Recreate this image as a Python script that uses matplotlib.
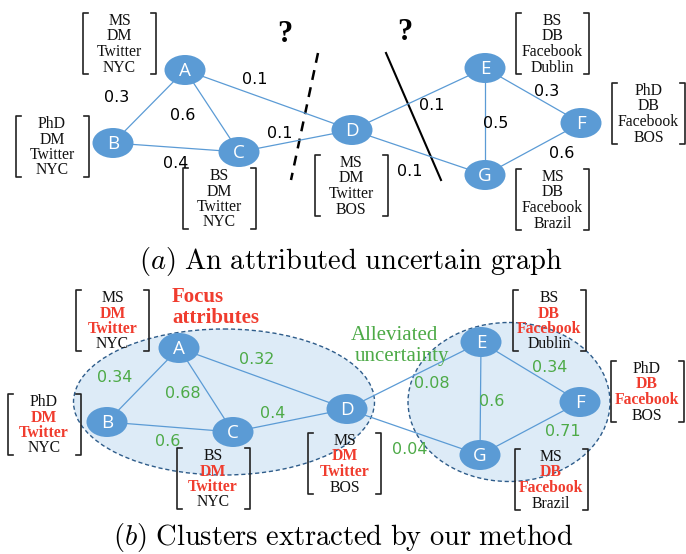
import matplotlib.pyplot as plt
from matplotlib.patches import Ellipse
plt.rcParams['mathtext.fontset'] = 'cm'

# Donnees du graphe
nodes = ['A', 'B', 'C', 'D', 'E', 'F', 'G']
edges = [('A', 'B'), ('A', 'C'), ('B', 'C'), ('A', 'D'), ('C', 'D'),
         ('D', 'E'), ('D', 'G'), ('E', 'F'), ('E', 'G'), ('F', 'G')]
w_top = ['0.3', '0.6', '0.4', '0.1', '0.1', '0.1', '0.1', '0.3', '0.5', '0.6']
w_bot = ['0.34', '0.68', '0.6', '0.32', '0.4', '0.08', '0.04', '0.34', '0.6', '0.71']
attrs = {'A': ['MS', 'DM', 'Twitter', 'NYC'],
         'B': ['PhD', 'DM', 'Twitter', 'NYC'],
         'C': ['BS', 'DM', 'Twitter', 'NYC'],
         'D': ['MS', 'DM', 'Twitter', 'BOS'],
         'E': ['BS', 'DB', 'Facebook', 'Dublin'],
         'F': ['PhD', 'DB', 'Facebook', 'BOS'],
         'G': ['MS', 'DB', 'Facebook', 'Brazil']}
focus = [1, 2]  # attributs en rouge dans (b)

# Mise en page (pixels)
pos_top = {'A': (185, 70), 'B': (113, 143), 'C': (239, 152), 'D': (352, 130),
           'E': (485, 68), 'F': (581, 123), 'G': (485, 175)}
pos_bot = {'A': (179, 348), 'B': (107, 422), 'C': (233, 432), 'D': (347, 409),
           'E': (481, 342), 'F': (580, 402), 'G': (480, 455)}
lab_top = [(117, 98), (183, 115), (176, 164), (255, 80), (280, 133),
           (432, 105), (410, 171), (547, 91), (496, 123), (562, 153)]
lab_bot = [(115, 377), (183, 393), (168, 442), (257, 360), (273, 413),
           (432, 384), (410, 449), (550, 368), (492, 402), (563, 432)]
box_top = {'A': (119.5, 13), 'B': (52, 116), 'C': (219, 168), 'D': (351, 155),
           'E': (552.5, 13), 'F': (648.5, 83), 'G': (552.5, 169)}
box_bot = {'A': (112.5, 290), 'B': (44, 394), 'C': (213, 448), 'D': (344.5, 433),
           'E': (549, 290), 'F': (647, 361), 'G': (551, 449)}

blue = '#5B9BD5'
green = '#4DAA47'
red = '#F03C2E'

fig = plt.figure(figsize=(6.86, 5.54), dpi=100)
ax = fig.add_axes([0, 0, 1, 1])
ax.set_xlim(0, 686)
ax.set_ylim(554, 0)
ax.set_axis_off()


def crochets(cx, top, h=61, w=73):
    l, r = cx - w / 2, cx + w / 2
    ax.plot([l + 5, l, l, l + 5], [top, top, top + h, top + h], color='#222222', lw=1.2)
    ax.plot([r - 5, r, r, r - 5], [top, top, top + h, top + h], color='#222222', lw=1.2)


def graphe(pos, poids, labpos, boxes, couleur_poids, red_lines):
    for (a, b), w, (lx, ly) in zip(edges, poids, labpos):
        ax.plot([pos[a][0], pos[b][0]], [pos[a][1], pos[b][1]], color=blue, lw=0.9, zorder=3)
        ax.text(lx, ly, w, color=couleur_poids, fontsize=11.5, family='DejaVu Sans',
                ha='center', va='center', zorder=5)
    for n in nodes:
        x, y = pos[n]
        ax.add_patch(Ellipse((x, y), 41, 30, facecolor=blue, edgecolor='none', zorder=4))
        ax.text(x, y + 1, n, color='white', fontsize=13.5, family='Open Sans',
                ha='center', va='center', zorder=5)
        cx, top = boxes[n]
        crochets(cx, top)
        for i, s in enumerate(attrs[n]):
            if i in red_lines:
                ax.text(cx, top + 8 + 15.5 * i, s, color=red, fontweight='bold', fontsize=11.3,
                        family='Liberation Serif', ha='center', va='center', zorder=5)
            else:
                ax.text(cx, top + 8 + 15.5 * i, s, color='#111111', fontsize=11.3,
                        family='Liberation Serif', ha='center', va='center', zorder=5)


# (a) graphe incertain
graphe(pos_top, w_top, lab_top, box_top, 'black', [])
ax.plot([318, 291], [53, 180], color='black', lw=1.8, ls=(0, (4, 3)))
ax.plot([386, 441], [53, 180], color='black', lw=1.5)
ax.text(285, 35, '?', fontsize=22, fontweight='bold', family='Liberation Serif', ha='center', va='center')
ax.text(405, 32, '?', fontsize=22, fontweight='bold', family='Liberation Serif', ha='center', va='center')
ax.text(351, 262, r'$(a)\ \mathrm{An\ attributed\ uncertain\ graph}$', fontsize=20.5,
        ha='center', va='center')

# (b) clusters
ax.add_patch(Ellipse((224, 402), 301, 146, facecolor='#DDEBF7', edgecolor='#2E5C8A',
                     lw=1, ls=(0, (3, 2)), zorder=1))
ax.add_patch(Ellipse((509, 402), 202, 159, facecolor='#DDEBF7', edgecolor='#2E5C8A',
                     lw=1, ls=(0, (3, 2)), zorder=1))
graphe(pos_bot, w_bot, lab_bot, box_bot, green, focus)
ax.text(172, 297, 'Focus', color=red, fontsize=15, fontweight='bold',
        family='Liberation Serif', ha='left', va='center')
ax.text(172, 318, 'attributes', color=red, fontsize=15, fontweight='bold',
        family='Liberation Serif', ha='left', va='center')
ax.text(394, 336, 'Alleviated', color=green, fontsize=15, family='Liberation Serif',
        ha='center', va='center', zorder=6)
ax.text(402, 356, 'uncertainty', color=green, fontsize=15, family='Liberation Serif',
        ha='center', va='center', zorder=6)
ax.text(343, 537, r'$(b)\ \mathrm{Clusters\ extracted\ by\ our\ method}$', fontsize=20.5,
        ha='center', va='center')

fig.savefig('out.png', dpi=100)
